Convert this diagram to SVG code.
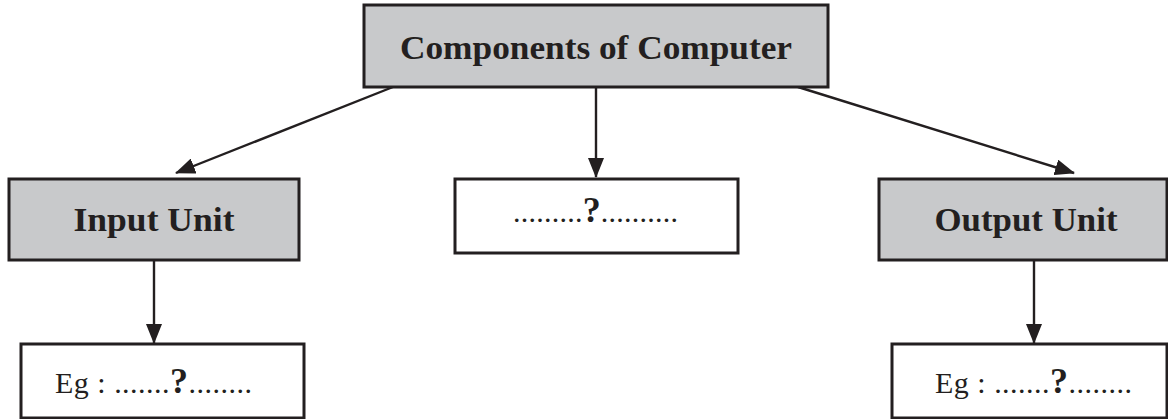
<svg xmlns="http://www.w3.org/2000/svg" width="1168" height="419" viewBox="0 0 1168 419">
<style>
.box{stroke:#231f20;stroke-width:3}
.gray{fill:#c8c9cb}
.white{fill:#ffffff}
.lbl{font-family:"Liberation Serif",serif;font-weight:bold;font-size:34px;fill:#231f20;text-anchor:middle}
.eg{font-family:"Liberation Serif",serif;font-size:30px;fill:#231f20}
.q{font-weight:bold;font-size:36px}
.conn line{stroke:#231f20;stroke-width:2.4}
</style>
<defs>
<marker id="ah" viewBox="0 0 20 16" refX="19" refY="8" markerWidth="20" markerHeight="16" markerUnits="userSpaceOnUse" orient="auto">
<path d="M0,0 L20,8 L0,16 z" fill="#231f20"/>
</marker>
</defs>
<rect width="1168" height="419" fill="#ffffff"/>
<g id="connectors" class="conn">
<line x1="393" y1="87" x2="176" y2="173" marker-end="url(#ah)"/>
<line x1="596" y1="87" x2="596" y2="177" marker-end="url(#ah)"/>
<line x1="798" y1="87" x2="1074" y2="173" marker-end="url(#ah)"/>
<line x1="154" y1="260" x2="154" y2="343" marker-end="url(#ah)"/>
<line x1="1034" y1="260" x2="1034" y2="343" marker-end="url(#ah)"/>
</g>
<g id="components">
<rect class="box gray" x="364" y="5" width="464" height="82"/>
<text class="lbl" x="596" y="59" textLength="392" lengthAdjust="spacingAndGlyphs">Components of Computer</text>
</g>
<g id="input-unit">
<rect class="box gray" x="9" y="179" width="290" height="81"/>
<text class="lbl" x="154" y="231" textLength="161" lengthAdjust="spacingAndGlyphs">Input Unit</text>
</g>
<g id="middle">
<rect class="box white" x="455" y="179" width="283" height="74"/>
<text class="eg" x="513" y="222" textLength="165" lengthAdjust="spacing">.........<tspan class="q">?</tspan>..........</text>
</g>
<g id="output-unit">
<rect class="box gray" x="879" y="179" width="288" height="81"/>
<text class="lbl" x="1026" y="231" textLength="183" lengthAdjust="spacingAndGlyphs">Output Unit</text>
</g>
<g id="input-example">
<rect class="box white" x="21" y="344" width="283" height="74"/>
<text class="eg" x="55" y="393" textLength="197" lengthAdjust="spacing">Eg : .......<tspan class="q">?</tspan>........</text>
</g>
<g id="output-example">
<rect class="box white" x="892" y="344" width="275" height="74"/>
<text class="eg" x="935" y="393" textLength="197" lengthAdjust="spacing">Eg : .......<tspan class="q">?</tspan>........</text>
</g>
</svg>
